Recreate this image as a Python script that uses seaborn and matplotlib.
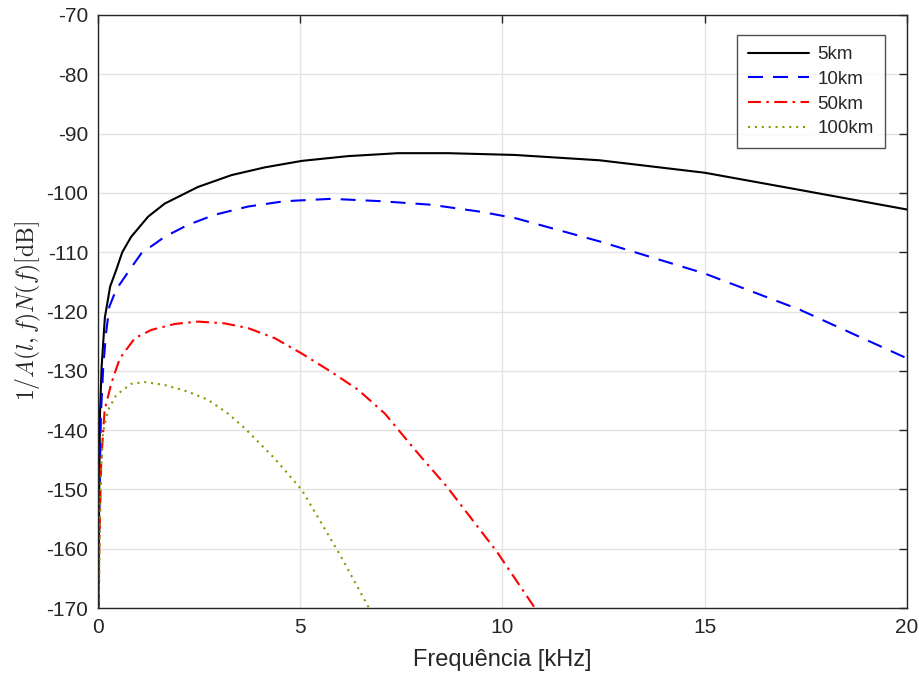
import numpy as np
import pandas as pd
import matplotlib
matplotlib.use("Agg")
import matplotlib.pyplot as plt
import seaborn as sns

# ---- data ----
x_5km = [0.01, 0.03, 0.05, 0.09, 0.17, 0.30, 0.45, 0.60, 0.82, 1.24, 1.65, 2.47, 3.30, 4.12,
         5.04, 6.18, 7.42, 8.65, 10.3, 12.4, 15.0, 17.35, 20.0]
y_5km = [-170, -150, -137, -129.3, -121, -115.8, -113.0, -110.0, -107.4, -104.0, -101.8, -99.0, -97.0, -95.7,
         -94.6, -93.8, -93.3, -93.3, -93.6, -94.5, -96.6, -99.5, -102.8]

x_10km = [0.01, 0.04, 0.074, 0.13, 0.20, 0.28, 0.45, 0.78, 1.07, 1.65, 2.22, 2.88, 3.71, 4.61,
          5.77, 7.00, 8.24, 9.48, 10.34, 12.41, 15.0, 17.35, 20.0]
y_10km = [-170, -150, -137, -129.3, -123.6, -119.2, -116.3, -113.0, -110.2, -107.4, -105.4, -103.7, -102.3, -101.4,
          -101.0, -101.4, -102.0, -103.2, -104.3, -108.2, -113.6, -119.7, -127.9]

x_50km = [0.02, 0.03, 0.08, 0.165, 0.33, 0.54, 0.91, 1.32, 1.90, 2.47, 3.13, 3.71, 4.37, 5.04,
          5.77, 6.43, 7.09, 7.87, 8.62, 9.86, 10.8]
y_50km = [-170, -160, -145, -136.6, -132.1, -127.9, -124.5, -123.1, -122.1, -121.7, -122.0, -122.8, -124.5, -127.1,
          -130.2, -133.2, -137.2, -143.6, -149.5, -160.5, -170]

x_100km = [0.02, 0.06, 0.12, 0.25, 0.45, 0.82, 1.15, 1.65, 2.22, 2.72, 3.21, 3.63, 4.37, 5.04, 5.98, 6.70]
y_100km = [-170, -150, -140.5, -136.6, -134.1, -132.2, -131.9, -132.4, -133.5, -134.9, -137.2, -139.7, -144.8,
           -150.1, -161.0, -170]

labels = ["5km", "10km", "50km", "100km"]
colors = ["#000000", "#0000ff", "#ff0000", "#7f9f00"]

frames = []
for lab, xs, ys in zip(labels, [x_5km, x_10km, x_50km, x_100km],
                       [y_5km, y_10km, y_50km, y_100km]):
    frames.append(pd.DataFrame({"f": xs, "v": ys, "dist": lab}))
df = pd.concat(frames, ignore_index=True)

sns.set_style("white")
plt.rcParams["font.family"] = ["Liberation Sans", "DejaVu Sans"]
plt.rcParams["mathtext.fontset"] = "cm"
plt.rcParams["axes.unicode_minus"] = False

fig = plt.figure(figsize=(9.2, 6.8), dpi=100)
ax = fig.add_axes([98/920, 1-608/680, (907-98)/920, (608-15)/680])

styles = ["-", (0, (7.2, 4.8)), (0, (6.2, 2.6, 1.2, 2.6)), (0, (1, 2.3))]
for lab, col, ls in zip(labels, colors, styles):
    sub = df[df["dist"] == lab]
    sns.lineplot(data=sub, x="f", y="v", ax=ax, color=col, linestyle=ls,
                 linewidth=1.5, label=lab, sort=False, estimator=None)

ax.set_xlim(0, 20)
ax.set_ylim(-170, -70)
ax.set_xticks([0, 5, 10, 15, 20])
ax.set_yticks(np.arange(-170, -69, 10))
ax.grid(True, color="#e3e3e3", linewidth=1.0)
ax.set_axisbelow(True)
for s in ax.spines.values():
    s.set_color("#262626")
    s.set_linewidth(1.0)
    s.set_visible(True)
ax.tick_params(direction="in", length=6, width=1.0, color="#262626",
               labelsize=15, labelcolor="#262626", top=True, right=True,
               labeltop=False, labelright=False, pad=7)
ax.set_xlabel("Frequência [kHz]", fontsize=17, color="#262626", labelpad=9)
ax.set_ylabel(r"$1/A(l,f)N(f)[\mathrm{dB}]$", fontsize=17, color="#262626", labelpad=2)

leg = ax.legend(loc="upper right", bbox_to_anchor=(0.9728, 0.9663), fontsize=13.5,
                frameon=True, fancybox=False, edgecolor="#262626",
                handlelength=3.25, handletextpad=0.45, borderpad=0.6,
                labelspacing=0.4, borderaxespad=0)
leg.get_frame().set_linewidth(1.0)

fig.savefig("out.png", dpi=100)
